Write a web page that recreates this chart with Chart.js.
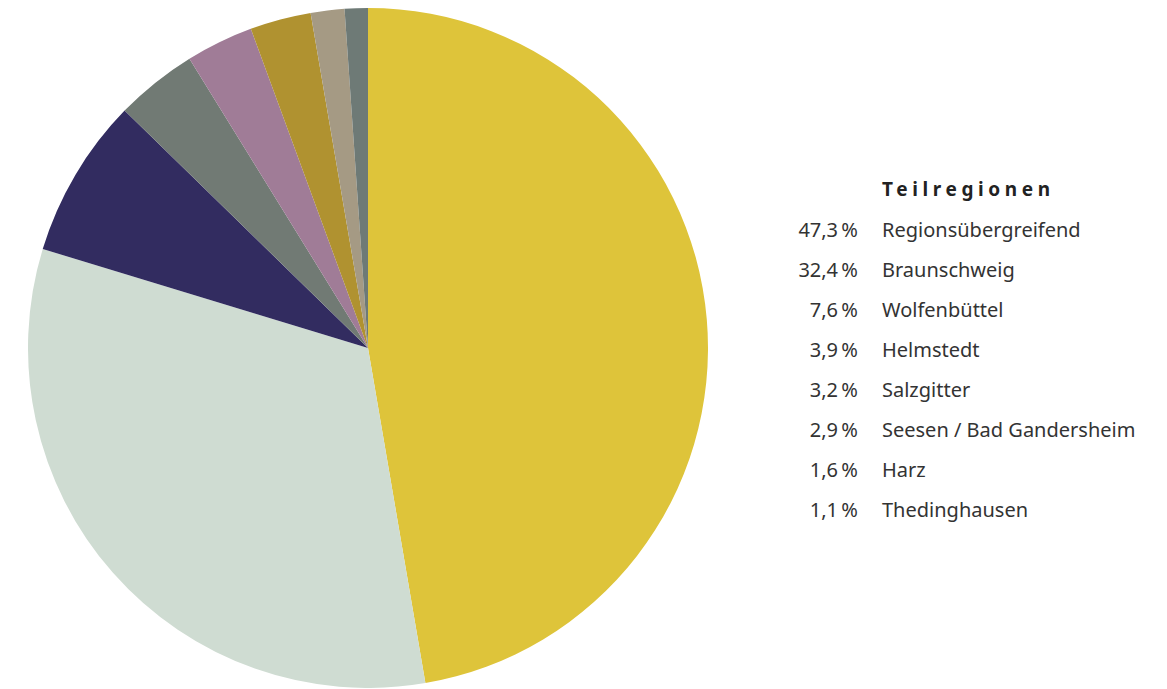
<!DOCTYPE html>
<html lang="de">
<head>
<meta charset="utf-8">
<script src="https://cdn.jsdelivr.net/npm/chart.js@4"></script>
<style>
    body { margin: 0; background: #fff; font-family: "Noto Sans", "Open Sans", sans-serif; color: #333; }
    #wrap { position: absolute; left: 28px; top: 8px; width: 680px; height: 680px; }
    #legend { position: absolute; left: 780px; top: 174px; }
    #legend h3 { margin: 0 0 0 102px; font-size: 19px; font-weight: 700; letter-spacing: 4.6px; color: #222; height: 35px; line-height: 30px; }
    #legend table { border-collapse: collapse; }
    #legend td { font-size: 20px; height: 40px; padding: 0; white-space: nowrap; }
    #legend td.pct { text-align: right; width: 78px; padding-right: 24px; }
</style>
</head>
<body>
<div id="wrap"><canvas id="myChart"></canvas></div>
<div id="legend">
    <h3 id="legendTitle"></h3>
    <table id="legendRows"></table>
</div>
<script>
const title = "Teilregionen";
const regions = ["Regionsübergreifend", "Braunschweig", "Wolfenbüttel", "Helmstedt", "Salzgitter", "Seesen / Bad Gandersheim", "Harz", "Thedinghausen"];
const shares = [47.3, 32.4, 7.6, 3.9, 3.2, 2.9, 1.6, 1.1];
const colors = ["#DEC43A", "#CFDCD2", "#322C60", "#717A74", "#A07C97", "#B09230", "#A59A84", "#6E7A76"];

// LEGEND
document.getElementById("legendTitle").innerText = title;
let rows = document.getElementById("legendRows");
regions.forEach((r, i) => {
    let tr = document.createElement("tr");
    tr.innerHTML = `<td class="pct">${shares[i].toFixed(1).replace(".", ",")}\u2009%</td><td>${r}</td>`;
    rows.appendChild(tr);
});

// CHART
const ctx = document.getElementById("myChart").getContext("2d");
new Chart(ctx, {
    type: "pie",
    data: {
        labels: regions,
        datasets: [{
            data: shares,
            backgroundColor: colors,
            borderWidth: 0
        }]
    },
    options: {
        responsive: true,
        maintainAspectRatio: false,
        animation: false,
        layout: { padding: 0 },
        plugins: {
            legend: { display: false },
            tooltip: { enabled: false }
        }
    }
});
</script>
</body>
</html>
